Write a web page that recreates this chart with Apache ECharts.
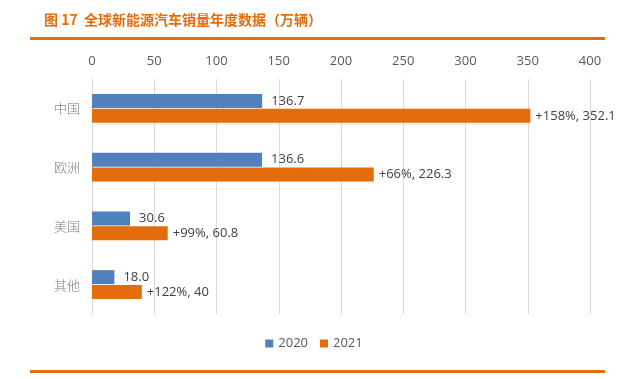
<!DOCTYPE html>
<html><head><meta charset="utf-8">
<script src="https://cdn.jsdelivr.net/npm/echarts@6/dist/echarts.min.js"></script>
<style>html,body{margin:0;padding:0;background:#fff}#c{width:628px;height:379px;position:relative}
.l1{position:absolute;left:30px;top:37px;width:575px;height:3px;background:#E46C0A}
.l2{position:absolute;left:30px;top:370px;width:575px;height:3px;background:#E46C0A}
</style></head><body>
<div id="c"></div>
<script>
const categories = ['中国', '欧洲', '美国', '其他'];
const sales2020 = [136.7, 136.6, 30.6, 18.0];
const sales2021 = [352.1, 226.3, 60.8, 40];
const growth = ['+158%', '+66%', '+99%', '+122%'];
const xTicks = [0, 50, 100, 150, 200, 250, 300, 350, 400];

const el = document.getElementById('c');
const chart = echarts.init(el, null, {renderer: 'canvas'});
const font = '"Open Sans", Roboto, "Noto Sans CJK SC", sans-serif';
chart.setOption({
  animation: false,
  textStyle: {fontFamily: font},
  title: {
    text: '图 17  全球新能源汽车销量年度数据（万辆）',
    left: 39, top: 8,
    textStyle: {fontFamily: '"Noto Sans CJK SC"', fontSize: 14, fontWeight: 'bold', color: '#E46C0A'}
  },
  grid: {left: 92, right: 38, top: 79, bottom: 65},
  legend: {
    bottom: 24, left: 'center', itemWidth: 8, itemHeight: 8, itemGap: 12,
    icon: 'rect',
    textStyle: {fontSize: 13, color: '#595959', fontFamily: font},
    data: ['2020', '2021']
  },
  xAxis: {
    type: 'value', position: 'top', min: 0, max: 400, interval: 50,
    axisLine: {show: false}, axisTick: {show: false},
    axisLabel: {color: '#595959', fontSize: 13, margin: 11,
      formatter: v => xTicks.includes(v) ? String(v) : ''},
    splitLine: {lineStyle: {color: '#D9D9D9', width: 1}}
  },
  yAxis: {
    type: 'category', data: categories, inverse: true,
    axisLine: {show: true, lineStyle: {color: '#D9D9D9'}},
    axisTick: {show: false},
    axisLabel: {color: '#7F7F7F', fontSize: 13, margin: 12, fontFamily: '"Noto Sans CJK SC"', fontWeight: 300}
  },
  series: [
    {name: '2020', type: 'bar', data: sales2020, barWidth: 14, barGap: '7%',
     itemStyle: {color: '#4F81BD'},
     label: {show: true, position: 'right', color: '#404040', fontSize: 13, distance: 9,
       formatter: p => sales2020[p.dataIndex].toFixed(1)}},
    {name: '2021', type: 'bar', data: sales2021, barWidth: 14,
     itemStyle: {color: '#E46C0A'},
     label: {show: true, position: 'right', color: '#404040', fontSize: 13, distance: 5,
       formatter: p => growth[p.dataIndex] + ', ' + sales2021[p.dataIndex]}}
  ]
});
</script>
<div class="l1"></div><div class="l2"></div>
</body></html>
